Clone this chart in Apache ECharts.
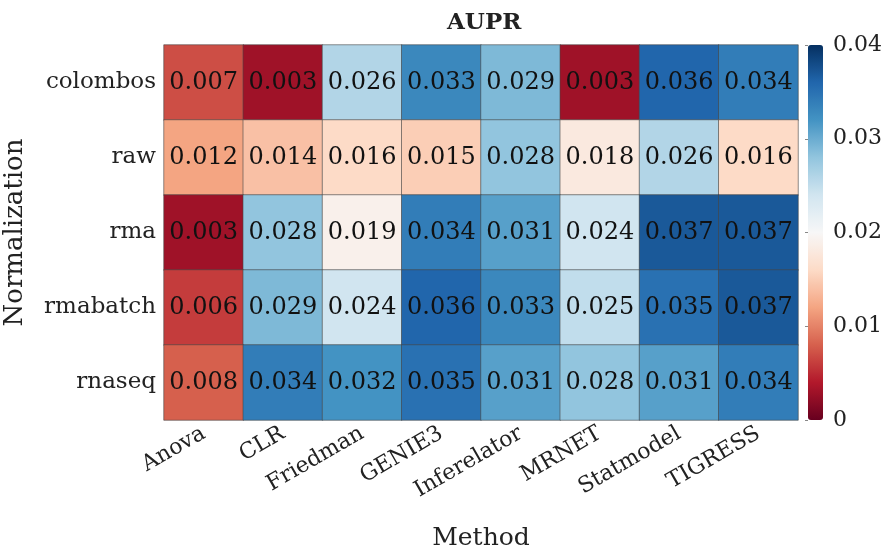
<!DOCTYPE html>
<html>
<head>
<meta charset="utf-8">
<script src="https://cdn.jsdelivr.net/npm/echarts@6/dist/echarts.min.js"></script>
<style>
  html, body { margin: 0; padding: 0; background: #fff; }
  #main { width: 883px; height: 550px; }
</style>
</head>
<body>
<div id="main"></div>
<script>
// 数据
const methods = ['Anova', 'CLR', 'Friedman', 'GENIE3', 'Inferelator', 'MRNET', 'Statmodel', 'TIGRESS'];
const norms = ['colombos', 'raw', 'rma', 'rmabatch', 'rnaseq'];
const colombos = [0.007, 0.003, 0.026, 0.033, 0.029, 0.003, 0.036, 0.034];
const raw      = [0.012, 0.014, 0.016, 0.015, 0.028, 0.018, 0.026, 0.016];
const rma      = [0.003, 0.028, 0.019, 0.034, 0.031, 0.024, 0.037, 0.037];
const rmabatch = [0.006, 0.029, 0.024, 0.036, 0.033, 0.025, 0.035, 0.037];
const rnaseq   = [0.008, 0.034, 0.032, 0.035, 0.031, 0.028, 0.031, 0.034];
const colorTicks = [0, 0.01, 0.02, 0.03, 0.04];

const rows = [colombos, raw, rma, rmabatch, rnaseq];
let cells = [];
for (let r = 0; r < rows.length; r++) {
    for (let c = 0; c < methods.length; c++) {
        cells.push([c, r, rows[r][c]]);
    }
}

// RdBu 色带（低值红，高值蓝）
const rdbu = ['#67001f', '#b2182b', '#d6604d', '#f4a582', '#fddbc7', '#f7f7f7',
              '#d1e5f0', '#92c5de', '#4393c3', '#2166ac', '#053061'];

const font = 'DejaVu Serif';
const chart = echarts.init(document.getElementById('main'));
const option = {
    backgroundColor: '#fff',
    animation: false,
    title: {
        text: 'AUPR',
        left: 442,
        top: 7,
        textStyle: { fontFamily: font, fontSize: 23, fontWeight: 'bold', color: '#222' }
    },
    grid: [
        { left: 164, top: 45, width: 634, height: 375, outerBoundsMode: 'none' },
        { left: 808, top: 45, width: 15, height: 375, show: false, outerBoundsMode: 'none' }
    ],
    xAxis: [
        {
            type: 'category', gridIndex: 0, data: methods,
            name: 'Method', nameLocation: 'middle', nameGap: 106,
            nameTextStyle: { fontFamily: font, fontSize: 25, color: '#222' },
            axisLine: { show: false }, axisTick: { show: false },
            axisLabel: { rotate: 30, fontFamily: font, fontSize: 22, color: '#222', margin: 12, interval: 0 }
        },
        { type: 'value', gridIndex: 1, show: false }
    ],
    yAxis: [
        {
            type: 'category', gridIndex: 0, data: norms, inverse: true,
            name: 'Normalization', nameLocation: 'middle', nameGap: 136,
            nameTextStyle: { fontFamily: font, fontSize: 26, color: '#222' },
            axisLine: { show: false }, axisTick: { show: false },
            axisLabel: { fontFamily: font, fontSize: 23, color: '#222', margin: 8 }
        },
        {
            type: 'value', gridIndex: 1, position: 'right',
            min: colorTicks[0], max: colorTicks[colorTicks.length - 1], interval: 0.01,
            axisLine: { show: false }, splitLine: { show: false },
            axisTick: { show: true, inside: true, length: 3, lineStyle: { color: '#888' } },
            axisLabel: {
                fontFamily: font, fontSize: 22, color: '#222', margin: 10,
                formatter: function (v) { return v === 0 ? '0' : v.toFixed(2); }
            }
        }
    ],
    visualMap: {
        type: 'continuous', min: 0, max: 0.04, seriesIndex: 0,
        calculable: false, orient: 'vertical',
        left: 808, top: 45, itemWidth: 15, itemHeight: 375, padding: 0,
        text: null, showLabel: false,
        inRange: { color: rdbu }
    },
    series: [{
        type: 'heatmap',
        xAxisIndex: 0, yAxisIndex: 0,
        data: cells,
        itemStyle: { borderColor: 'rgba(70,70,70,0.6)', borderWidth: 1 },
        label: {
            show: true, fontFamily: font, fontSize: 24, color: '#111',
            formatter: function (p) { return p.value[2].toFixed(3); }
        }
    }]
};
chart.setOption(option);
</script>
</body>
</html>
